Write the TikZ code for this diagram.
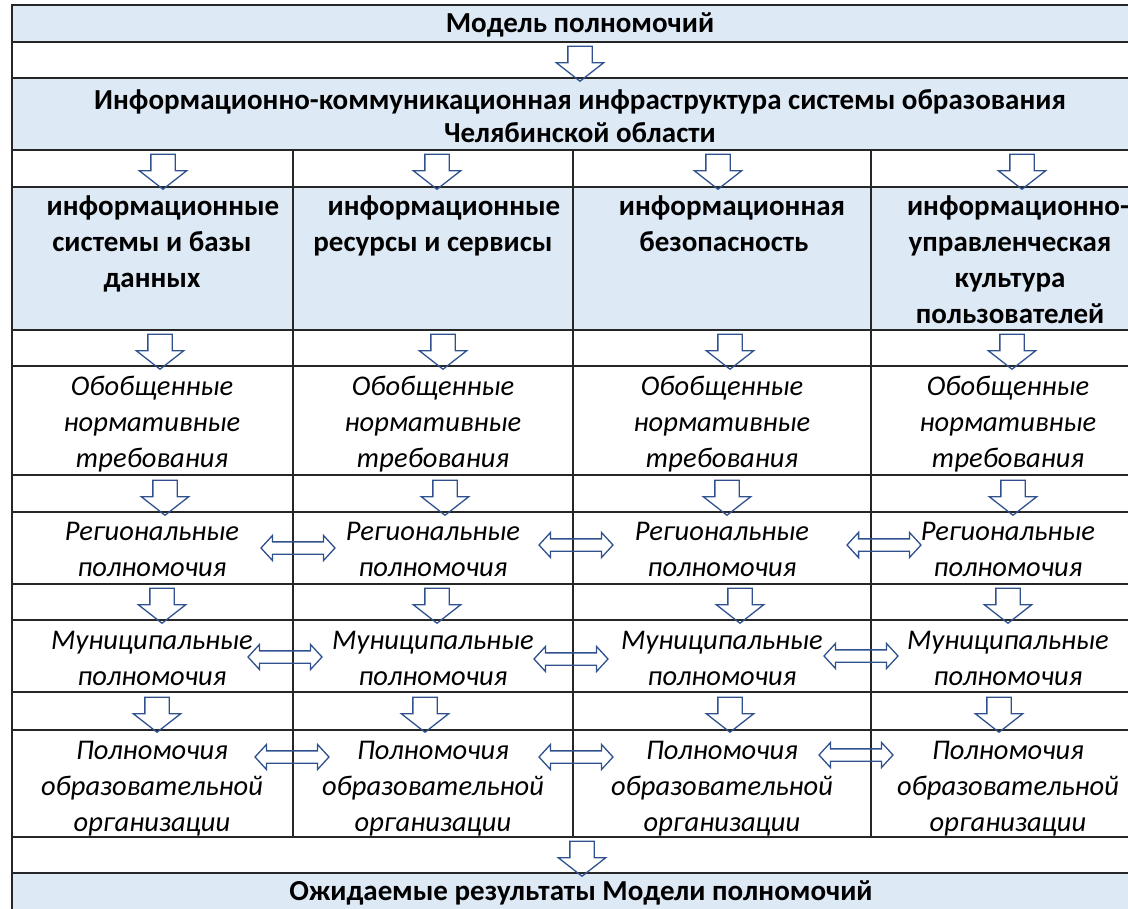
\documentclass[tikz,border=0pt]{standalone}
\usepackage{fontspec}
\setmainfont{Carlito}
\usetikzlibrary{shapes.arrows}
\definecolor{cellblue}{RGB}{222,233,246}
\definecolor{arrowblue}{RGB}{47,82,143}

\tikzset{
  gridline/.style={line width=1.6pt, draw=black!85},
  downarrow/.style={single arrow, draw=arrowblue, line width=1.3pt, rotate=-90,
    minimum height=35pt, minimum width=46pt, inner xsep=0pt, inner ysep=11.5pt,
    single arrow head extend=11.5pt, single arrow tip angle=104},
  bothways/.style={double arrow, draw=arrowblue, line width=1.3pt,
    minimum height=74pt, minimum width=24pt, inner xsep=0pt, inner ysep=5.5pt,
    double arrow head extend=6.5pt, double arrow tip angle=95},
  title/.style={font=\fontsize{29}{33}\selectfont\bfseries, align=center, inner sep=0pt},
  head/.style={font=\fontsize{29}{36}\selectfont\bfseries, align=center, anchor=north, inner sep=0pt},
  level/.style={font=\fontsize{28.5}{36}\selectfont\itshape, align=center, inner sep=0pt}
}

\begin{document}
\begin{tikzpicture}[x=1pt, y=-1pt]
  \useasboundingbox (0,0) rectangle (1128,909);

  \fill [cellblue] (12,5) rectangle (1150,42);
  \fill [cellblue] (12,78) rectangle (1150,150);
  \fill [cellblue] (12,187) rectangle (1150,330);
  \fill [cellblue] (12,873) rectangle (1150,912);

  \draw [gridline] (12,5) rectangle (1150,912);
  \draw [gridline] (12,42) to (1150,42);
  \draw [gridline] (12,78) to (1150,78);
  \draw [gridline] (12,150) to (1150,150);
  \draw [gridline] (12,187) to (1150,187);
  \draw [gridline] (12,330) to (1150,330);
  \draw [gridline] (12,366) to (1150,366);
  \draw [gridline] (12,475) to (1150,475);
  \draw [gridline] (12,512) to (1150,512);
  \draw [gridline] (12,584) to (1150,584);
  \draw [gridline] (12,620) to (1150,620);
  \draw [gridline] (12,692) to (1150,692);
  \draw [gridline] (12,730) to (1150,730);
  \draw [gridline] (12,837) to (1150,837);
  \draw [gridline] (12,873) to (1150,873);
  \draw [gridline] (293,150) to (293,837);
  \draw [gridline] (573,150) to (573,837);
  \draw [gridline] (871,150) to (871,837);

  \node [title] (model) at (580,25) {Модель полномочий};
  \node [title] (ikt) at (580,116) {Информационно-коммуникационная инфраструктура системы образования\\Челябинской области};
  \node [title] (result) at (581,893) {Ожидаемые результаты Модели полномочий};

  \node [head] (h1) at (152,196) {\hspace*{22pt}информационные\\системы и базы\\данных};
  \node [head] (h2) at (433,196) {\hspace*{22pt}информационные\\ресурсы и сервисы};
  \node [head] (h3) at (724,196) {\hspace*{16pt}информационная\\безопасность};
  \node [head] (h4) at (1010,196) {\hspace*{16pt}информационно-\\управленческая\\культура\\пользователей};

  \node [level] (g1) at (152,424) {Обобщенные\\нормативные\\требования};
  \node [level] (g2) at (433,424) {Обобщенные\\нормативные\\требования};
  \node [level] (g3) at (722,424) {Обобщенные\\нормативные\\требования};
  \node [level] (g4) at (1008,424) {Обобщенные\\нормативные\\требования};

  \node [level] (r1) at (152,549) {Региональные\\полномочия};
  \node [level] (r2) at (433,549) {Региональные\\полномочия};
  \node [level] (r3) at (722,549) {Региональные\\полномочия};
  \node [level] (r4) at (1008,549) {Региональные\\полномочия};

  \node [level] (m1) at (152,658) {Муниципальные\\полномочия};
  \node [level] (m2) at (433,658) {Муниципальные\\полномочия};
  \node [level] (m3) at (722,658) {Муниципальные\\полномочия};
  \node [level] (m4) at (1008,658) {Муниципальные\\полномочия};

  \node [level] (p1) at (152,789) {Полномочия\\образовательной\\организации};
  \node [level] (p2) at (433,789) {Полномочия\\образовательной\\организации};
  \node [level] (p3) at (722,789) {Полномочия\\образовательной\\организации};
  \node [level] (p4) at (1008,789) {Полномочия\\образовательной\\организации};

  \node [downarrow] (a0) at (580,59) {};
  \node [downarrow] (a1) at (163,167) {};
  \node [downarrow] (a2) at (437,167) {};
  \node [downarrow] (a3) at (718,167) {};
  \node [downarrow] (a4) at (1022,167) {};
  \node [downarrow] (b1) at (160,347) {};
  \node [downarrow] (b2) at (443,347) {};
  \node [downarrow] (b3) at (730,347) {};
  \node [downarrow] (b4) at (1012,347) {};
  \node [downarrow] (c1) at (165,493) {};
  \node [downarrow] (c2) at (445,493) {};
  \node [downarrow] (c3) at (727,493) {};
  \node [downarrow] (c4) at (1013,493) {};
  \node [downarrow] (e1) at (162,601) {};
  \node [downarrow] (e2) at (437,601) {};
  \node [downarrow] (e3) at (740,601) {};
  \node [downarrow] (e4) at (1008,601) {};
  \node [downarrow] (f1) at (157,710) {};
  \node [downarrow] (f2) at (425,710) {};
  \node [downarrow] (f3) at (730,710) {};
  \node [downarrow] (f4) at (999,710) {};
  \node [downarrow] (a5) at (582,854) {};

  \node [bothways] (rr12) at (298,548) {};
  \node [bothways] (rr23) at (576,545) {};
  \node [bothways] (rr34) at (884,545) {};
  \node [bothways] (mm12) at (285,657) {};
  \node [bothways] (mm23) at (571,659) {};
  \node [bothways] (mm34) at (861,656) {};
  \node [bothways] (pp12) at (292,757) {};
  \node [bothways] (pp23) at (576,757) {};
  \node [bothways] (pp34) at (856,755) {};
\end{tikzpicture}
\end{document}
